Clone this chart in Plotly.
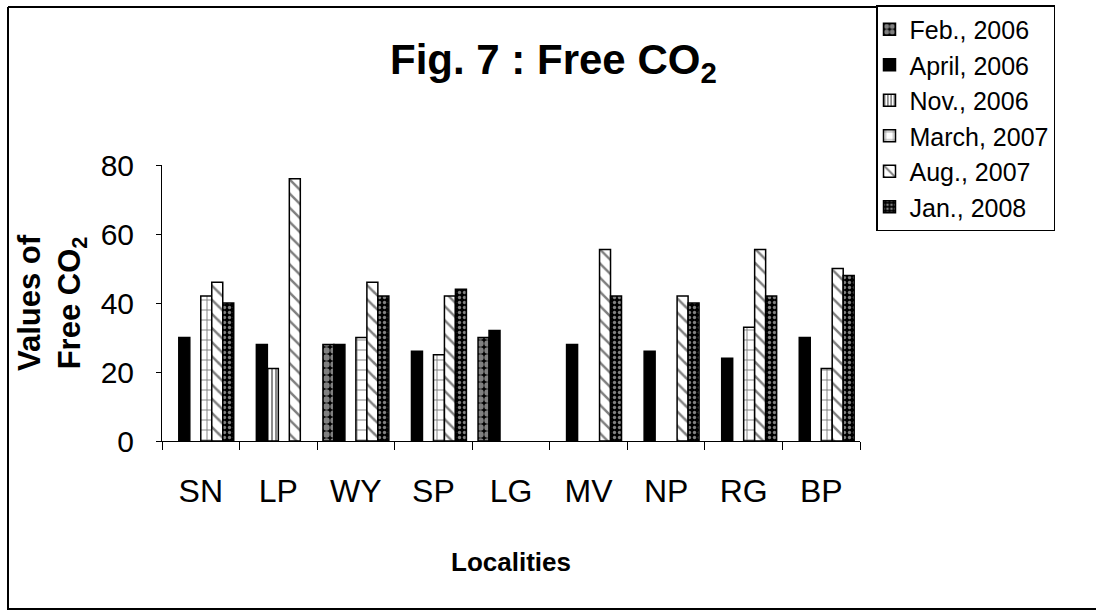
import plotly.graph_objects as go

localities = ["SN", "LP", "WY", "SP", "LG", "MV", "NP", "RG", "BP"]
series_names = ["Feb., 2006", "April, 2006", "Nov., 2006", "March, 2007", "Aug., 2007", "Jan., 2008"]
feb_2006 = [None, None, 28, None, 30, None, None, None, None]
april_2006 = [30, 28, 28, 26, 32, 28, 26, 24, 30]
nov_2006 = [None, 21, None, None, None, None, None, None, None]
march_2007 = [42, None, 30, 25, None, None, None, 33, 21]
aug_2007 = [46, 76, 46, 42, None, 55.5, 42, 55.5, 50]
jan_2008 = [40, None, 42, 44, None, 42, 40, 42, 48]
y_ticks = [0, 20, 40, 60, 80]

series_values = [feb_2006, april_2006, nov_2006, march_2007, aug_2007, jan_2008]
patterns = [
    dict(shape=".", bgcolor="black", fgcolor="white", size=7, solidity=0.65),
    dict(shape="", bgcolor="black", fgcolor="black"),
    dict(shape="|", bgcolor="white", fgcolor="black", size=4, solidity=0.45),
    dict(shape="+", bgcolor="white", fgcolor="black", size=10, solidity=0.18),
    dict(shape="\\", bgcolor="white", fgcolor="black", size=10, solidity=0.25),
    dict(shape=".", bgcolor="black", fgcolor="white", size=5, solidity=0.35),
]

W, H = 1096, 612
L, R, T, B = 162, 860, 165, 441

def px(x):
    return (x - L) / (R - L)

def py(y):
    return (B - y) / (B - T)

fig = go.Figure()
for name, vals, pat in zip(series_names, series_values, patterns):
    fig.add_trace(go.Bar(
        name=name, x=localities, y=vals,
        marker=dict(color="black" if pat["shape"] == "" else "white",
                    line=dict(color="black", width=1.5),
                    pattern=pat),
    ))

FONT = "Liberation Sans, Arial, sans-serif"
fig.update_layout(
    width=W, height=H,
    margin=dict(l=L, r=W - R, t=T, b=H - B, pad=0, autoexpand=False),
    paper_bgcolor="white", plot_bgcolor="white",
    barmode="group", bargap=0.15, bargroupgap=0,
    font=dict(family=FONT, color="black"),
    showlegend=True,
    legend=dict(
        x=px(876), y=py(5), xanchor="left", yanchor="top",
        bgcolor="white", bordercolor="black", borderwidth=1.5,
        font=dict(size=25, family=FONT, color="black"),
        itemwidth=30, tracegroupgap=0, indentation=-8,
    ),
    xaxis=dict(
        showline=True, linecolor="black", linewidth=1,
        ticks="outside", tickson="boundaries", ticklen=8, tickcolor="black",
        tickfont=dict(size=32, family=FONT), ticklabelstandoff=22,
        showgrid=False,
        title=dict(text="<b>Localities</b>", font=dict(size=26, family=FONT), standoff=44),
    ),
    yaxis=dict(
        range=[0, 80], tickvals=y_ticks, showline=True, linecolor="black", linewidth=1,
        ticks="outside", ticklen=5, tickcolor="black",
        tickfont=dict(size=30, family=FONT), ticklabelstandoff=16,
        showgrid=False, zeroline=False,
        title=dict(text="<b>Values of<br>Free CO<sub>2</sub></b>", font=dict(size=31, family=FONT), standoff=10),
    ),
    annotations=[dict(
        text="<b>Fig. 7 : Free CO<sub>2</sub></b>", x=px(553), y=py(63),
        xref="paper", yref="paper", xanchor="center", yanchor="middle",
        showarrow=False, font=dict(size=42, family=FONT, color="black"),
    )],
    shapes=[
        dict(type="line", xref="paper", yref="paper", x0=px(8), x1=px(8), y0=py(7), y1=py(610),
             line=dict(color="black", width=2)),
        dict(type="line", xref="paper", yref="paper", x0=px(8), x1=px(876), y0=py(7), y1=py(7),
             line=dict(color="black", width=2)),
        dict(type="line", xref="paper", yref="paper", x0=px(8), x1=px(1096), y0=py(609), y1=py(609),
             line=dict(color="black", width=2)),
    ],
)

fig.write_html(
    "out.html",
    config={"displayModeBar": False},
    post_script="document.body.style.margin='0';document.body.style.overflow='hidden';",
)
